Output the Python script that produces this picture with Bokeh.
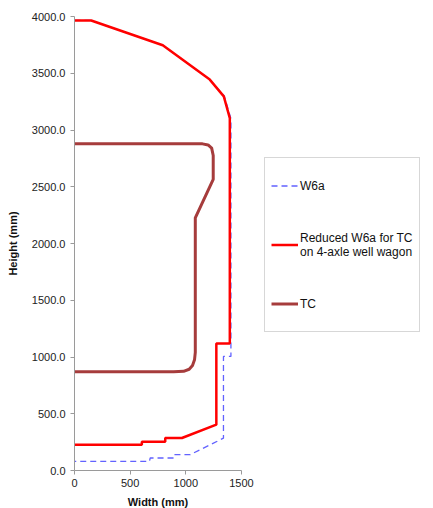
from bokeh.plotting import figure
from bokeh.models import Range1d, FixedTicker, NumeralTickFormatter, Legend, LegendItem
from bokeh.embed import file_html
from bokeh.resources import INLINE

# W6a gauge (dashed blue)
w6a_x = [0, 150, 793, 1215, 1345, 1405, 1405, 1338, 1338, 1040, 895, 892, 680, 673, 0]
w6a_y = [3965, 3965, 3747, 3444, 3300, 3100, 1005, 1005, 285, 140, 140, 110, 110, 80, 80]

# Reduced W6a for TC on 4-axle well wagon (red)
red_x = [0, 150, 793, 1215, 1341, 1395, 1395, 1274, 1274, 965, 815, 815, 605, 605, 0]
red_y = [3965, 3965, 3747, 3444, 3296, 3105, 1120, 1120, 404, 286, 286, 253, 253, 227, 227]

# TC profile (brown)
tc_x = [0, 1150, 1200, 1232, 1246, 1246, 1085, 1085, 1078, 1060, 1030, 980, 890, 0]
tc_y = [2878, 2878, 2868, 2840, 2775, 2565, 2225, 1040, 975, 925, 892, 874, 869, 869]

x_ticks = [0, 500, 1000, 1500]
y_ticks = [0, 500, 1000, 1500, 2000, 2500, 3000, 3500, 4000]

labels = ["W6a", "Reduced W6a for TC\non 4-axle well wagon", "TC"]

FONT = "Liberation Sans"

p = figure(output_backend="svg", toolbar_location=None,
           x_range=Range1d(0, 1500), y_range=Range1d(0, 4000),
           min_border_left=74, min_border_top=16, min_border_bottom=30, min_border_right=184,
           frame_width=167, frame_height=454)
p.outline_line_color = None
p.grid.visible = False
p.background_fill_color = "white"
p.border_fill_color = "white"

r_w6a = p.line(w6a_x, w6a_y, line_color="#6262ff", line_width=1.3, line_dash="6 4")
r_tc = p.line(tc_x, tc_y, line_color="#a63c3c", line_width=3, line_join="round")
r_red = p.line(red_x, red_y, line_color="#ff0000", line_width=2.5)

p.xaxis.ticker = FixedTicker(ticks=x_ticks)
p.yaxis.ticker = FixedTicker(ticks=y_ticks)
p.yaxis.formatter = NumeralTickFormatter(format="0.0")
for ax in (p.xaxis[0], p.yaxis[0]):
    ax.axis_line_color = "#9a9a9a"
    ax.major_tick_line_color = "#9a9a9a"
    ax.major_tick_out = 4
    ax.major_tick_in = 0
    ax.minor_tick_line_color = None
    ax.major_label_text_font = FONT
    ax.major_label_text_font_size = "11px"
    ax.major_label_text_color = "#222222"
    ax.axis_label_text_font = FONT
    ax.axis_label_text_font_size = "11px"
    ax.axis_label_text_font_style = "bold"
    ax.axis_label_text_color = "#111111"
p.xaxis.axis_label = "Width (mm)"
p.yaxis.axis_label = "Height (mm)"
p.xaxis.major_label_standoff = 4
p.yaxis.major_label_standoff = 5
p.xaxis.axis_label_standoff = 6
p.yaxis.axis_label_standoff = 10

legend = Legend(items=[LegendItem(label=labels[0], renderers=[r_w6a]),
                       LegendItem(label=labels[1], renderers=[r_red]),
                       LegendItem(label=labels[2], renderers=[r_tc])],
                location=(23, 138))
legend.label_text_font = FONT
legend.label_text_font_size = "12px"
legend.label_text_color = "#111111"
legend.border_line_color = "#b0b0b0"
legend.border_line_width = 1
legend.background_fill_alpha = 1
legend.padding = 6
legend.spacing = 16
legend.glyph_width = 27
legend.glyph_height = 43
legend.label_height = 43
legend.label_standoff = 2
legend.margin = 0
p.add_layout(legend, "right")

open("out.html", "w").write(file_html(p, INLINE))
